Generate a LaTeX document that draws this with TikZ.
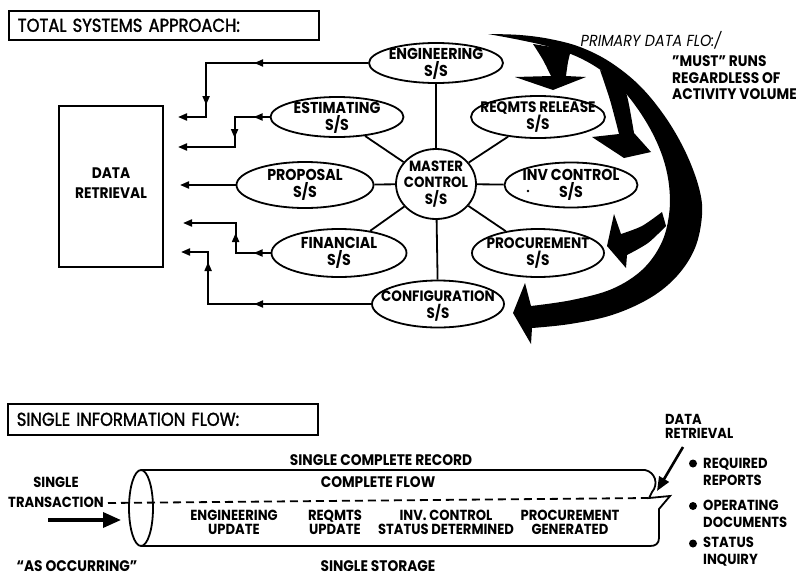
\documentclass[tikz,border=0pt]{standalone}
\usepackage{fontspec}
\setmainfont{Poppins}[FakeStretch=0.9]
\newfontfamily\headfont{Poppins}[FakeStretch=0.88, FakeBold=1.6]
\usetikzlibrary{shapes.geometric, arrows.meta, decorations.markings}

\tikzset{
  tipA/.tip={Triangle[length=9pt,width=7pt]},
  onemid/.style={postaction={decorate},
    decoration={markings, mark=at position #1 with {\arrow{tipA}}}},
  twomid/.style 2 args={postaction={decorate},
    decoration={markings, mark=at position #1 with {\arrow{tipA}},
                          mark=at position #2 with {\arrow{tipA}}}},
}

\begin{document}
\begin{tikzpicture}[x=1pt, y=-1pt,
  every node/.style={inner sep=0pt},
  ss/.style={ellipse, draw, line width=1.8pt},
  lbl/.style={align=center, font=\fontsize{15.8}{17}\selectfont\bfseries},
  txt/.style={align=center, font=\fontsize{15.3}{15}\selectfont\bfseries},
  cyl/.style={align=center, font=\fontsize{14.6}{14}\selectfont\bfseries},
  side/.style={align=left, font=\fontsize{15.3}{16.5}\selectfont\bfseries},
  list/.style={align=left, anchor=west, font=\fontsize{14.6}{17}\selectfont\bfseries},
  headbox/.style={draw, line width=1.6pt, anchor=north west, text width=292pt,
    inner xsep=9pt, align=left, font=\headfont\fontsize{18.6}{20}\selectfont},
  spoke/.style={line width=1.8pt},
  wire/.style={line width=2pt, -{tipA}},
  band/.style={fill=black},
  rim/.style={line width=1.8pt},
]
\useasboundingbox (0,0) rectangle (800,576);

% ---------------- upper part: total systems approach ----------------
\node[headbox, minimum height=29pt] (h1) at (8,10) {TOTAL SYSTEMS APPROACH:};

\node[draw, line width=1.8pt, minimum width=104pt, minimum height=161pt,
      label={[txt, yshift=3pt]center:{DATA\\[5pt]RETRIEVAL}}] (dr) at (111,186.5) {};

% subsystems around the master control
\node[ss, minimum width=80pt, minimum height=70pt,
      label={[lbl, font=\fontsize{14.8}{16.5}\selectfont\bfseries]center:{MASTER\\CONTROL\\S/S}}] (mc) at (436,184) {};
\node[ss, minimum width=134pt, minimum height=40pt,
      label={[lbl, yshift=-1pt]center:{ENGINEERING\\S/S}}] (eng) at (436,63) {};
\node[ss, minimum width=133pt, minimum height=40pt,
      label={[lbl, yshift=-1pt]center:{ESTIMATING\\S/S}}] (est) at (337,117) {};
\node[ss, minimum width=137pt, minimum height=46pt,
      label={[lbl]center:{PROPOSAL\\S/S}}] (prop) at (305,185) {};
\node[ss, minimum width=135pt, minimum height=48pt,
      label={[lbl]center:{FINANCIAL\\S/S}}] (fin) at (339,253) {};
\node[ss, minimum width=132pt, minimum height=47pt,
      label={[lbl, yshift=-2pt, font=\fontsize{15}{17}\selectfont\bfseries]center:{CONFIGURATION\\S/S}}] (conf) at (438,304) {};
\node[ss, minimum width=134pt, minimum height=42pt,
      label={[lbl, font=\fontsize{15.2}{17}\selectfont\bfseries]center:{REQMTS RELEASE\\S/S}}] (req) at (538,117) {};
\node[ss, minimum width=133pt, minimum height=45pt,
      label={[lbl]center:{INV CONTROL\\S/S}}] (inv) at (571,185) {};
\node[ss, minimum width=132pt, minimum height=48pt,
      label={[lbl, font=\fontsize{15.2}{17}\selectfont\bfseries]center:{PROCUREMENT\\S/S}}] (proc) at (538,253) {};
\fill (inv) ++(-43,6) circle (1.3);

\foreach \n in {eng,est,prop,fin,conf,req,inv,proc}
  \draw[spoke] (mc) -- (\n);

% outputs to data retrieval
\coordinate (d1) at (178,117);
\coordinate (d2) at (178,147);
\coordinate (d3) at (180,185);
\coordinate (d4) at (183,223);
\coordinate (d5) at (181,252);
\draw[wire, twomid={114pt}{204pt}] (eng.west) -- ++(-162,0) |- (d1);
\draw[wire, twomid={16pt}{56pt}] (est.west) -- ++(-35,0) |- (d2);
\draw[wire] (prop.west) -- (d3);
\draw[wire, twomid={17pt}{55pt}] (fin.west) -- ++(-35,0) |- (d4);
\draw[wire, twomid={117pt}{205pt}] (conf.west) -- ++(-163,0) |- (d5);

% primary data flow band
\fill[band] plot[smooth, tension=0.6] coordinates {(488,34) (520,35) (550,39) (580,47)
    (610,62) (640,86) (666,118) (686,153) (699,188) (702,215) (695,248) (677,276)
    (650,298) (612,315) (570,324) (532,328)}
  -- (531,344) -- (513,313) -- (525,283) -- (531,306)
  -- plot[smooth, tension=0.6] coordinates {(531,306) (572,300) (612,289) (642,270)
    (661,244) (669,215) (669,185) (662,155) (648,125) (628,96) (606,74) (580,58)
    (550,47) (520,40) (488,34)} -- cycle;
% branch to reqmts release
\fill[band] plot[smooth] coordinates {(533,44) (543,60) (551,76)}
  -- (515,77) -- (553,90) -- (586,77) -- (566,76)
  -- plot[smooth] coordinates {(566,76) (568,62) (571,50)} -- cycle;
% branch to inv control
\fill[band] plot[smooth] coordinates {(600,70) (610,100) (619,134)}
  -- (592,137) -- (624,158) -- (651,152) -- (634,133)
  -- plot[smooth] coordinates {(634,133) (628,100) (622,80)} -- cycle;
% branch to procurement
\fill[band] plot[smooth] coordinates {(662,212) (642,226) (621,234)}
  -- (614,214) -- (607,246) -- (626,268) -- (627,255)
  -- plot[smooth] coordinates {(627,255) (648,243) (666,226)} -- cycle;

\node[font=\itshape\fontsize{16}{16}\selectfont] (pdf) at (651,40) {PRIMARY DATA FLO:/};
\node[side, anchor=west] (must) at (672,78) {"MUST" RUNS\\REGARDLESS OF\\ACTIVITY VOLUME};

% ---------------- lower part: single information flow ----------------
\node[headbox, minimum height=31pt] (h2) at (7,403) {SINGLE INFORMATION FLOW:};

\node[txt] (rec) at (381,460) {SINGLE COMPLETE RECORD};
\node[txt] (cflow) at (378,482) {COMPLETE FLOW};
\node[txt, font=\fontsize{14.6}{20}\selectfont\bfseries] (trans) at (56,492) {SINGLE\\TRANSACTION};
\node[txt] (occ) at (77,566.5) {“AS OCCURRING"};
\node[txt] (stor) at (378,566.5) {SINGLE STORAGE};

% storage cylinder with torn end
\draw[rim] (141,470) -- (645,470) .. controls (655,472) and (659,484) .. (652,492)
  -- (649,498) -- (670,496) -- (659,509) -- (659,538)
  .. controls (659,544) and (655,546) .. (650,546) -- (141,546);
\draw[rim] (141,508) ellipse [x radius=12, y radius=38];

\node[cyl] (engup) at (234,522) {ENGINEERING\\UPDATE};
\node[cyl] (requp) at (335,522) {REQMTS\\UPDATE};
\node[cyl] (invst) at (446,522) {INV. CONTROL\\STATUS DETERMINED};
\node[cyl] (procg) at (570,522) {PROCUREMENT\\GENERATED};

\coordinate (c0) at (108,503);
\coordinate (c1) at (648,498);
\draw[line width=1.8pt, dash pattern=on 8pt off 5pt] (c0) -- (c1);

\coordinate (ta) at (48,520);
\coordinate (tb) at (121,520);
\draw[line width=3.5pt, -{Triangle[length=18pt,width=15pt]}] (ta) -- (tb);

\node[list, font=\fontsize{14.5}{14}\selectfont\bfseries] (drl) at (665,426) {DATA\\RETRIEVAL};
\coordinate (dra) at (683,447);
\coordinate (drb) at (657,491);
\draw[line width=2.6pt, -{Triangle[length=14pt,width=11pt]}] (dra) -- (drb);

\node[list] (b1) at (703,471.5) {REQUIRED\\REPORTS};
\node[list] (b2) at (703,514) {OPERATING\\DOCUMENTS};
\node[list] (b3) at (703,551.5) {STATUS\\INQUIRY};
\fill (b1.west) ++(-10,-8) circle (4);
\fill (b2.west) ++(-10,-8) circle (4);
\fill (b3.west) ++(-10,-8) circle (4);
\end{tikzpicture}
\end{document}
